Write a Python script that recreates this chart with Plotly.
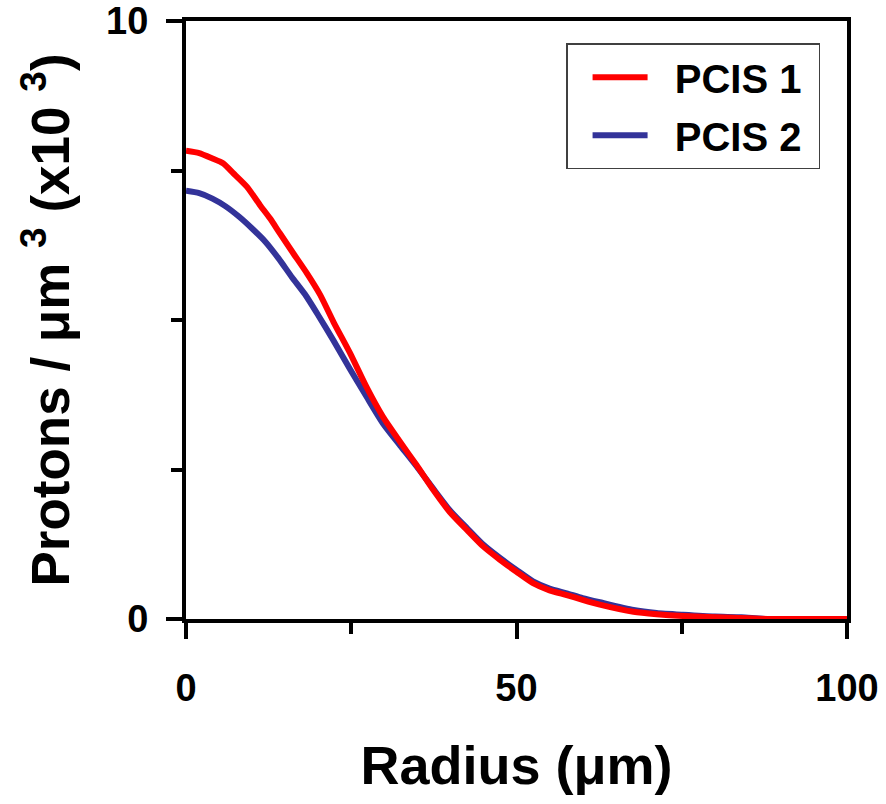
import plotly.graph_objects as go

# Radius (µm) and proton density (x10^3 per µm^3)
radius_pcis1 = [0, 2, 4, 5.6, 7.2, 9.2, 11.2, 12.7, 14.2, 16.2, 18.3, 20.3, 22.3, 24.8,
                27.3, 29.8, 32.4, 34.9, 37.4, 39.9, 42.5, 45, 47.5, 50, 52.5, 55, 57.6,
                60, 62.6, 67.7, 71.2, 75.2, 82.8, 88, 100]
pcis1 = [7.83, 7.79, 7.70, 7.62, 7.45, 7.23, 6.92, 6.70, 6.45, 6.12, 5.78, 5.42, 4.97, 4.45,
         3.88, 3.38, 2.96, 2.57, 2.16, 1.79, 1.49, 1.21, 0.99, 0.79, 0.60, 0.48, 0.40,
         0.32, 0.24, 0.12, 0.08, 0.05, 0.02, 0.0, 0.0]

radius_pcis2 = [0, 2, 4, 6, 8, 10, 12, 14, 16, 18, 20, 22.3, 24.8, 27.3, 29.8, 32.4, 34.9,
                37.4, 39.9, 42.5, 45, 47.5, 50, 52.5, 55, 57.6, 60, 62.6, 67.7, 71.2, 75.2,
                80, 84, 88, 100]
pcis2 = [7.16, 7.12, 7.03, 6.90, 6.73, 6.53, 6.31, 6.03, 5.72, 5.43, 5.08, 4.66, 4.18, 3.72,
         3.27, 2.90, 2.55, 2.18, 1.82, 1.52, 1.24, 1.02, 0.82, 0.63, 0.51, 0.43, 0.35, 0.28,
         0.15, 0.10, 0.07, 0.04, 0.03, 0.0, 0.0]

series_names = ["PCIS 1", "PCIS 2"]
x_ticks = [0, 50, 100]
y_ticks = [0, 10]

FONT = "Arial, Liberation Sans, sans-serif"

fig = go.Figure()
fig.add_trace(go.Scatter(x=radius_pcis2, y=pcis2, mode="lines",
                         name="&nbsp;&nbsp;" + series_names[1] + "&nbsp;",
                         line=dict(color="#333399", width=6, shape="spline", smoothing=0.6),
                         legendrank=2, legendgroup="b"))
fig.add_trace(go.Scatter(x=radius_pcis1, y=pcis1, mode="lines",
                         name="&nbsp;&nbsp;" + series_names[0] + "&nbsp;",
                         line=dict(color="#FF0000", width=6, shape="spline", smoothing=0.6),
                         legendrank=1, legendgroup="a"))

axis_common = dict(
    showline=True, linecolor="black", linewidth=4, mirror=True,
    ticks="outside", tickcolor="black", tickwidth=4, ticklen=16,
    showgrid=False, zeroline=False, automargin=False,
    tickfont=dict(family=FONT, size=38, color="black", weight="bold"),
)

fig.update_xaxes(
    range=[0, 100], tickvals=x_ticks, ticktext=[str(v) for v in x_ticks],
    minor=dict(dtick=25, ticks="outside", ticklen=11, tickwidth=4, tickcolor="black", showgrid=False),
    ticklabelstandoff=16,
    title=dict(text="Radius (μm)", font=dict(family=FONT, size=54, color="black", weight="bold"),
               standoff=40),
    **axis_common,
)
fig.update_yaxes(
    range=[0, 10], tickvals=y_ticks, ticktext=[str(v) for v in y_ticks],
    minor=dict(dtick=2.5, ticks="outside", ticklen=11, tickwidth=4, tickcolor="black", showgrid=False),
    ticklabelstandoff=10,
    title=dict(text="Protons / μm <sup>3</sup> (x10 <sup>3</sup>)",
               font=dict(family=FONT, size=53, color="black", weight="bold"), standoff=21),
    **axis_common,
)

fig.update_layout(
    width=886, height=804,
    margin=dict(l=186, r=39, t=21, b=185),
    paper_bgcolor="white", plot_bgcolor="white",
    showlegend=True,
    legend=dict(
        x=0.575, y=0.963, xanchor="left", yanchor="top",
        bgcolor="white", bordercolor="#404040", borderwidth=1.5,
        font=dict(family=FONT, size=40, color="black", weight="bold"),
        itemwidth=55, indentation=20, tracegroupgap=3, traceorder="grouped",
    ),
)

fig.write_html("out.html")
